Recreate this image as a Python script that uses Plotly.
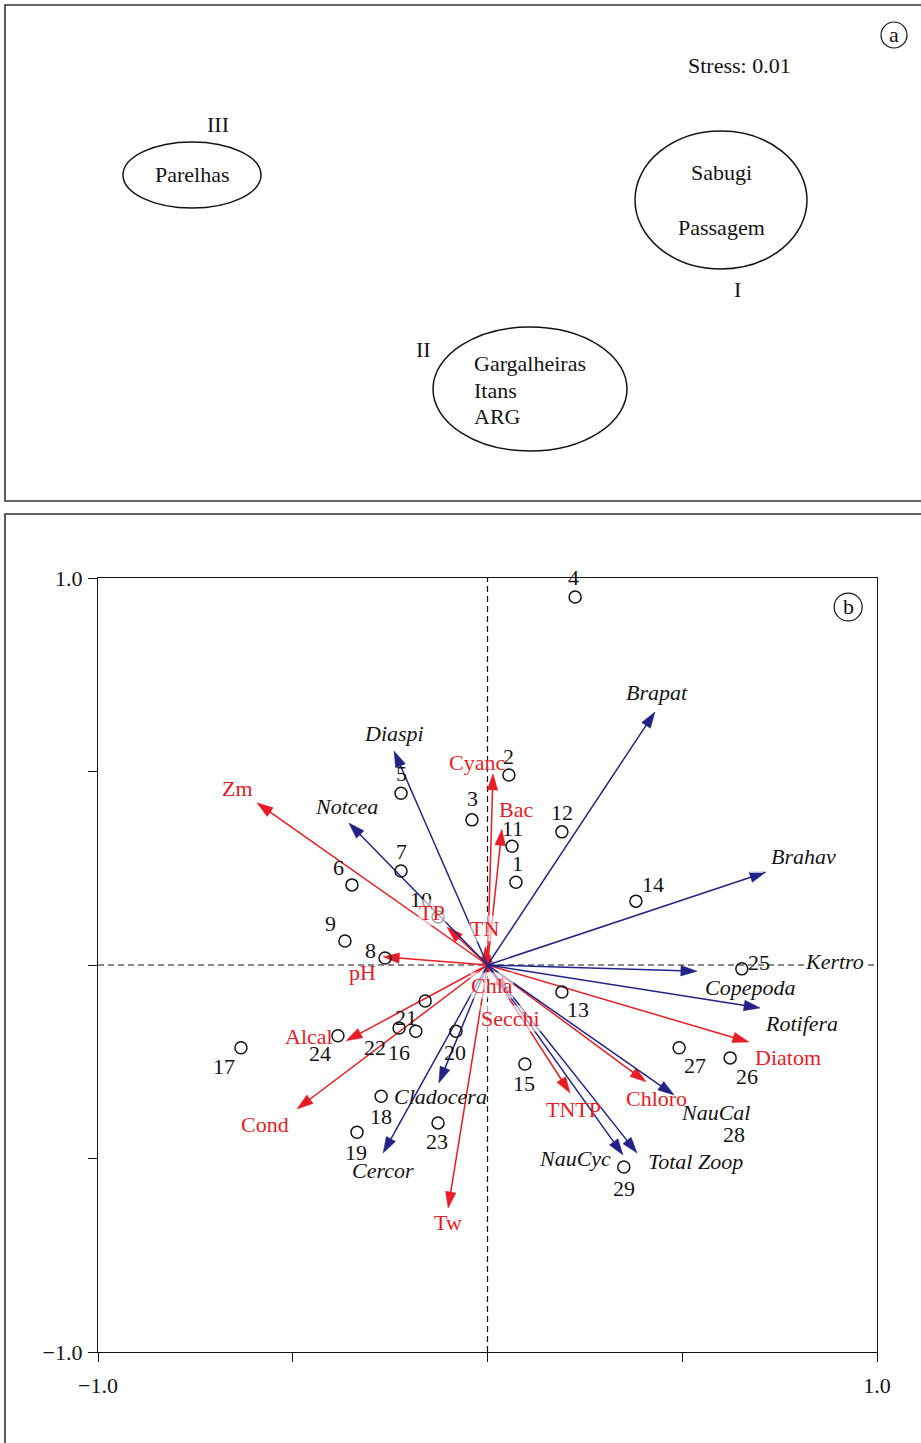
import plotly.graph_objects as go

W, H = 921, 1443
FONT = "Liberation Serif, Times New Roman, serif"
FS = 22
BLUE = "rgb(35,35,135)"
RED = "rgb(232,28,36)"
BLACK = "rgb(20,20,20)"

# ---------------- Panel (a): NMDS groups ----------------
group_names = ["I", "II", "III"]
group_cx = [716, 525, 187]
group_cy = [195, 384, 170]
group_rx = [86, 97, 69]
group_ry = [69, 62, 33]
stress_text = "Stress: 0.01"

# ---------------- Panel (b): RDA biplot ----------------
site_ids = [str(i) for i in range(1, 30)]
site_x = [0.073, 0.055, -0.040, 0.225, -0.222, -0.348, -0.222, -0.263, -0.366, -0.127,
          0.063, 0.191, 0.191, 0.381, 0.096, -0.184, -0.633, -0.273, -0.335, -0.081,
          -0.160, -0.227, -0.127, -0.384, 0.653, 0.623, 0.492, 0.589, 0.350]
site_y = [0.214, 0.491, 0.375, 0.951, 0.444, 0.207, 0.243, 0.018, 0.062, 0.124,
          0.307, 0.344, -0.070, 0.165, -0.256, -0.171, -0.214, -0.339, -0.432, -0.171,
          -0.093, -0.163, -0.408, -0.183, -0.010, -0.240, -0.214, -0.390, -0.522]
site_lab_dx = [2, 0, 1, -2, 0, -13, 0, -15, -14, -17, 0, 0, 16, 17, -1, -17, -17, 0, -1, -1,
               -19, -24, -1, -18, 17, 17, 16, 17, 0]
site_lab_dy = [19, 18, 21, 19, 20, 17, 19, 8, 18, 18, 18, 19, -17, 17, -19, -21, -19, -20, -20, -21,
               -17, -19, -19, -18, 6, -19, -18, -19, -21]

species = ["Brapat", "Brahav", "Copepoda", "Rotifera", "NauCal", "Total Zoop", "NauCyc",
           "Cercor", "Cladocera", "Diaspi", "Notcea"]
species_x = [0.430, 0.715, 0.538, 0.700, 0.479, 0.384, 0.348, -0.268, -0.125, -0.240, -0.356]
species_y = [0.654, 0.240, -0.016, -0.111, -0.336, -0.486, -0.491, -0.486, -0.305, 0.553, 0.367]
species_lab_dx = [2, 38, 53, 41, 41, 58, -48, 0, 2, 0, -2]
species_lab_dy = [19, 16, -16, -16, -17, -8, -3, -17, -13, 17, 16]
kertro_pos = (0.890, 0.010)

env = ["Zm", "Cyanc", "Bac", "TP", "TN", "pH", "Chla", "Secchi", "Alcal", "Cond", "Tw",
       "TNTP", "Chloro", "Diatom"]
env_x = [-0.592, 0.014, 0.037, -0.104, -0.006, -0.268, 0.004, 0.053, -0.363, -0.489, -0.101,
         0.212, 0.407, 0.671]
env_y = [0.419, 0.494, 0.351, 0.098, 0.047, 0.021, -0.018, -0.072, -0.196, -0.372, -0.628,
         -0.331, -0.302, -0.199]
env_lab_dx = [-19, -16, 14, -15, -1, -21, 3, 2, -37, -32, 0, 3, 10, 39]
env_lab_dy = [14, 11, 20, 15, 18, -16, -14, -26, 4, -16, -14, -16, -17, -15]
env_halo = {"TP", "TN", "Chla", "Secchi"}

fig = go.Figure()


def arrow(x, y, color):
    fig.add_trace(go.Scatter(
        x=[0, x], y=[0, y], mode="lines+markers",
        line=dict(color=color, width=1.5),
        marker=dict(symbol=["circle", "arrow"], size=[0.1, 17], color=color, opacity=1,
                    angleref="previous", line=dict(width=0.5, color=color)),
        hoverinfo="skip", showlegend=False, cliponaxis=False,
        xaxis="x", yaxis="y"))


for xv, yv in zip(env_x, env_y):
    arrow(xv, yv, RED)
for xv, yv in zip(species_x, species_y):
    arrow(xv, yv, BLUE)

fig.add_trace(go.Scatter(
    x=site_x, y=site_y, mode="markers",
    marker=dict(symbol="circle-open", size=12, color=BLACK, line=dict(width=1.5, color=BLACK)),
    hoverinfo="skip", showlegend=False, cliponaxis=False, xaxis="x", yaxis="y"))

ann = []
for sid, xv, yv, dx, dy in zip(site_ids, site_x, site_y, site_lab_dx, site_lab_dy):
    ann.append(dict(x=xv, y=yv, xref="x", yref="y", text=sid, showarrow=False,
                    xshift=dx, yshift=dy, font=dict(family=FONT, size=FS, color=BLACK)))
for nm, xv, yv, dx, dy in zip(species, species_x, species_y, species_lab_dx, species_lab_dy):
    a = dict(x=xv, y=yv, xref="x", yref="y", text="<i>%s</i>" % nm, showarrow=False,
             xshift=dx, yshift=dy, font=dict(family=FONT, size=FS, color=BLACK), borderpad=0)
    if nm == "NauCal":
        a["bgcolor"] = "white"
    ann.append(a)
ann.append(dict(x=kertro_pos[0], y=kertro_pos[1], xref="x", yref="y", text="<i>Kertro</i>",
                showarrow=False, bgcolor="white", borderpad=0,
                font=dict(family=FONT, size=FS, color=BLACK)))
for nm, xv, yv, dx, dy in zip(env, env_x, env_y, env_lab_dx, env_lab_dy):
    a = dict(x=xv, y=yv, xref="x", yref="y", text=nm, showarrow=False,
             xshift=dx, yshift=dy, font=dict(family=FONT, size=FS, color=RED), borderpad=0)
    if nm in env_halo:
        a["bgcolor"] = "rgba(255,255,255,0.6)"
    ann.append(a)

ann.append(dict(x=0.926, y=0.925, xref="x", yref="y", text="b", showarrow=False,
                font=dict(family=FONT, size=FS, color=BLACK), yshift=1))


def ta(x, y, t, xanchor="center"):
    ann.append(dict(x=x, y=y, xref="x2", yref="y2", text=t, showarrow=False, xanchor=xanchor,
                    font=dict(family=FONT, size=FS, color=BLACK)))


ta(734, 61, stress_text)
ta(732, 284, group_names[0])
ta(418, 344, group_names[1])
ta(213, 120, group_names[2])
ta(187, 170, "Parelhas")
ta(716, 168, "Sabugi")
ta(716, 223, "Passagem")
ta(467, 358, "Gargalheiras", "left")
ta(467, 385, "Itans", "left")
ta(467, 411, "ARG", "left")
ta(889, 30, "a")

shapes = []
shapes.append(dict(type="rect", xref="paper", yref="paper", x0=5 / W, x1=1.01,
                   y0=1 - 501 / H, y1=1 - 5 / H, line=dict(color="rgb(50,50,50)", width=1.6)))
shapes.append(dict(type="rect", xref="paper", yref="paper", x0=5 / W, x1=1.01,
                   y0=-0.01, y1=1 - 514 / H, line=dict(color="rgb(50,50,50)", width=1.6)))
for cx, cy, rx, ry in zip(group_cx, group_cy, group_rx, group_ry):
    shapes.append(dict(type="circle", xref="x2", yref="y2", x0=cx - rx, x1=cx + rx,
                       y0=cy - ry, y1=cy + ry, line=dict(color=BLACK, width=1.5)))
shapes.append(dict(type="circle", xref="x2", yref="y2", x0=876, x1=902, y0=17, y1=43,
                   line=dict(color=BLACK, width=1.2)))
shapes.append(dict(type="line", xref="x", yref="y", x0=0, x1=0, y0=-1, y1=1,
                   line=dict(color=BLACK, width=1.2, dash="6px,4px"), layer="below"))
shapes.append(dict(type="line", xref="x", yref="y", x0=-1, x1=1, y0=0, y1=0,
                   line=dict(color=BLACK, width=1.2, dash="6px,4px"), layer="below"))
shapes.append(dict(type="circle", xref="x", yref="y", x0=0.926 - 0.036, x1=0.926 + 0.036,
                   y0=0.925 - 0.036, y1=0.925 + 0.036, line=dict(color=BLACK, width=1.2)))

tickvals = [-1, -0.5, 0, 0.5, 1]
ticktext = ["\u22121.0", "", "", "", "1.0"]

fig.update_layout(
    width=W, height=H, margin=dict(l=0, r=0, t=0, b=0, pad=0, autoexpand=False),
    paper_bgcolor="white", plot_bgcolor="white",
    showlegend=False,
    xaxis=dict(domain=[98 / W, 877 / W], range=[-1, 1], tickvals=tickvals, ticktext=ticktext,
               ticks="outside", ticklen=9, tickwidth=1.2, tickcolor=BLACK,
               showline=True, mirror=True, linecolor=BLACK, linewidth=1.3,
               showgrid=False, zeroline=False, ticklabelstandoff=4, automargin=False,
               tickfont=dict(family=FONT, size=FS, color=BLACK)),
    yaxis=dict(domain=[1 - 1352 / H, 1 - 578 / H], range=[-1, 1], tickvals=tickvals,
               ticktext=ticktext, ticks="outside", ticklen=9, tickwidth=1.2, tickcolor=BLACK,
               showline=True, mirror=True, linecolor=BLACK, linewidth=1.3,
               showgrid=False, zeroline=False, ticklabelstandoff=1, automargin=False,
               tickfont=dict(family=FONT, size=FS, color=BLACK)),
    xaxis2=dict(domain=[5 / W, 1.0], range=[0, 916], visible=False, anchor="y2"),
    yaxis2=dict(domain=[1 - 501 / H, 1 - 5 / H], range=[496, 0], visible=False, anchor="x2"),
    annotations=ann, shapes=shapes,
)

fig.write_html("out.html", config={"displayModeBar": False},
               post_script="document.body.style.margin='0';document.body.style.padding='0';")
